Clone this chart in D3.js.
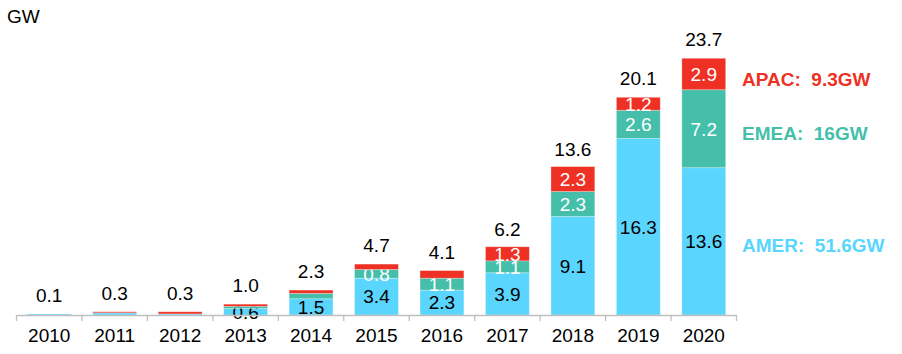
<!DOCTYPE html>
<html>
<head>
<meta charset="utf-8">
<script src="https://cdn.jsdelivr.net/npm/d3@7"></script>
<style>
  body { margin: 0; background: #fff; }
  text { font-family: Arial, "Liberation Sans", sans-serif; }
</style>
</head>
<body>
<div id="displayChart"></div>
<script>
// years on the x axis
const years = ["2010","2011","2012","2013","2014","2015","2016","2017","2018","2019","2020"];

// installed GW per region
const amer = [0.1, 0.2, 0.1, 0.6, 1.5, 3.4, 2.3, 3.9, 9.1, 16.3, 13.6];
const emea = [0.0, 0.0, 0.0, 0.2, 0.5, 0.8, 1.1, 1.1, 2.3, 2.6, 7.2];
const apac = [0.0, 0.1, 0.2, 0.2, 0.3, 0.5, 0.7, 1.3, 2.3, 1.2, 2.9];

// total labels above each bar
const totals = [0.1, 0.3, 0.3, 1.0, 2.3, 4.7, 4.1, 6.2, 13.6, 20.1, 23.7];

// legend on the right
const legendText = ["APAC:  9.3GW", "EMEA:  16GW", "AMER:  51.6GW"];

const seriesKeys = ["amer", "emea", "apac"];
const colors = { amer: "#5ad5fe", emea: "#45bfaa", apac: "#ee3124" };
const labelColor = { amer: "#000", emea: "#fff", apac: "#fff" };
// smallest value that still gets a label inside the segment
const minLabel = { amer: 0.5, emea: 0.8, apac: 1.0 };

const w = 902, h = 354;
const svg = d3.select("#displayChart").append("svg")
  .attr("width", w).attr("height", h);

const table = years.map((y, i) => ({ year: y, amer: amer[i], emea: emea[i], apac: apac[i], total: totals[i] }));
const stack = d3.stack().keys(seriesKeys)(table);

const xScale = d3.scaleBand().domain(years).range([16.5, 736.5]).paddingInner(0.33).paddingOuter(0.165);
const yScale = d3.scaleLinear().domain([0, 23.7]).range([315, 58.3]);

// bars
const layers = svg.append("g").selectAll("g")
  .data(stack).enter().append("g")
  .attr("fill", d => colors[d.key]);

layers.selectAll("rect")
  .data(d => d.map(p => ({ key: d.key, p: p })))
  .enter().append("rect")
  .attr("x", d => xScale(d.p.data.year))
  .attr("y", d => yScale(d.p[1]))
  .attr("width", xScale.bandwidth())
  .attr("height", d => yScale(d.p[0]) - yScale(d.p[1]))
  .attr("stroke", "#fff").attr("stroke-opacity", 0.35).attr("stroke-width", 0.8);

// labels inside segments
layers.selectAll("text")
  .data(d => d.map(p => ({ key: d.key, p: p })).filter(d => d.p.data[d.key] >= minLabel[d.key]))
  .enter().append("text")
  .attr("x", d => xScale(d.p.data.year) + xScale.bandwidth() / 2)
  .attr("y", d => (yScale(d.p[0]) + yScale(d.p[1])) / 2)
  .attr("dy", "0.36em")
  .attr("text-anchor", "middle")
  .attr("font-size", "19px")
  .attr("fill", d => labelColor[d.key])
  .text(d => d.p.data[d.key].toFixed(1));

// totals
svg.append("g").selectAll("text")
  .data(table).enter().append("text")
  .attr("x", d => xScale(d.year) + xScale.bandwidth() / 2)
  .attr("y", d => yScale(d.total) - 12)
  .attr("text-anchor", "middle")
  .attr("font-size", "19px")
  .attr("fill", "#000")
  .text(d => d.total.toFixed(1));

// x axis
const x_axis = d3.axisBottom(xScale).tickSize(0).tickPadding(14);
const gx = svg.append("g").attr("transform", "translate(0,315)").call(x_axis);
gx.select(".domain").attr("stroke", "#bfbfbf").attr("stroke-width", 1.3);
gx.selectAll("text").attr("font-size", "19px").attr("fill", "#000").attr("font-family", "Arial, 'Liberation Sans', sans-serif");

// tick marks between the bands
const bounds = years.map(y => xScale(y) - xScale.step() * xScale.paddingInner() / 2);
bounds.push(736.5);
bounds[0] = 16.5;
gx.selectAll(".sep").data(bounds).enter().append("line")
  .attr("x1", d => d).attr("x2", d => d)
  .attr("y1", 0).attr("y2", 6)
  .attr("stroke", "#bfbfbf").attr("stroke-width", 1.3);

// unit label
svg.append("text").attr("x", 7).attr("y", 23).attr("font-size", "19px").attr("fill", "#000").text("GW");

// legend
const legendY = [86, 140, 252];
const legendColor = [colors.apac, colors.emea, colors.amer];
svg.append("g").selectAll("text")
  .data(legendText).enter().append("text")
  .attr("x", 742)
  .attr("y", (d, i) => legendY[i])
  .attr("font-size", "19px")
  .attr("font-weight", "bold")
  .attr("fill", (d, i) => legendColor[i])
  .style("white-space", "pre")
  .text(d => d);
</script>
</body>
</html>
